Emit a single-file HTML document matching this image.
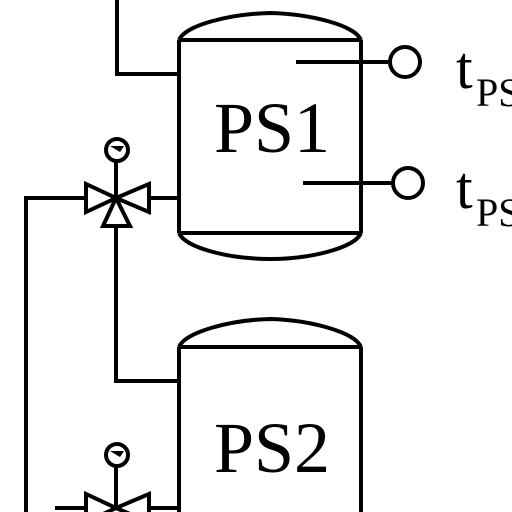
<!DOCTYPE html><html><head><style>body{margin:0;background:#fff}svg{display:block}</style></head><body>
<svg width="512" height="512" viewBox="0 0 512 512" xmlns="http://www.w3.org/2000/svg">
<g fill="none" stroke="#000" stroke-width="4">
<!-- tank 1 -->
<path d="M179,40 L179,233 M361,40 L361,233 M179,40 L361,40 M179,233 L361,233"/>
<path d="M179,40 C185,25 230,14 270,13 C310,14 355,25 361,40"/>
<path d="M179,233 C185,248 230,259 270,259 C310,259 355,248 361,233"/>
<!-- tank 2 -->
<path d="M179,347 L179,512 M361,347 L361,512 M179,347 L361,347"/>
<path d="M179,347 C185,332 230,320 270,319 C310,320 355,332 361,347"/>
<!-- pipes -->
<path d="M117,0 L117,74 L179,74"/>
<path d="M26,512 L26,198 L86,198 M149,198 L179,198"/>
<path d="M116,226 L116,381 L179,381"/>
<path d="M55,508 L86,508 M149,508 L179,508"/>
<!-- sensors -->
<path d="M296,62 L390,62 M303,183 L393,183"/>
<circle cx="405" cy="62" r="15"/>
<circle cx="408" cy="183" r="15"/>
<!-- valve 1 -->
<path d="M86,184 L86,212 L116,198 Z M149,184 L149,212 L116,198 Z M103,226 L130,226 L116,198 Z" stroke-linejoin="miter"/>
<path d="M116,162 L116,198"/>
<circle cx="117" cy="150" r="11"/>
<!-- valve 2 -->
<path d="M86,494 L86,522 L116,508 Z M149,494 L149,522 L116,508 Z"/>
<path d="M116,466 L116,508"/>
<circle cx="117" cy="455" r="11"/>
</g>
<g fill="#000">
<path d="M110,146 L124,146 L120,152 Z"/>
<path d="M110,451 L124,451 L120,457 Z"/>
</g>
<g font-family="Liberation Serif, serif" fill="#000">
<text x="272" y="152" font-size="72" text-anchor="middle">PS1</text>
<text x="272" y="472" font-size="72" text-anchor="middle">PS2</text>
<text x="456" y="88" font-size="60">t</text>
<text x="476" y="106" font-size="40">PS</text>
<text x="456" y="208" font-size="60">t</text>
<text x="476" y="226" font-size="40">PS</text>
</g>
</svg>
</body></html>
